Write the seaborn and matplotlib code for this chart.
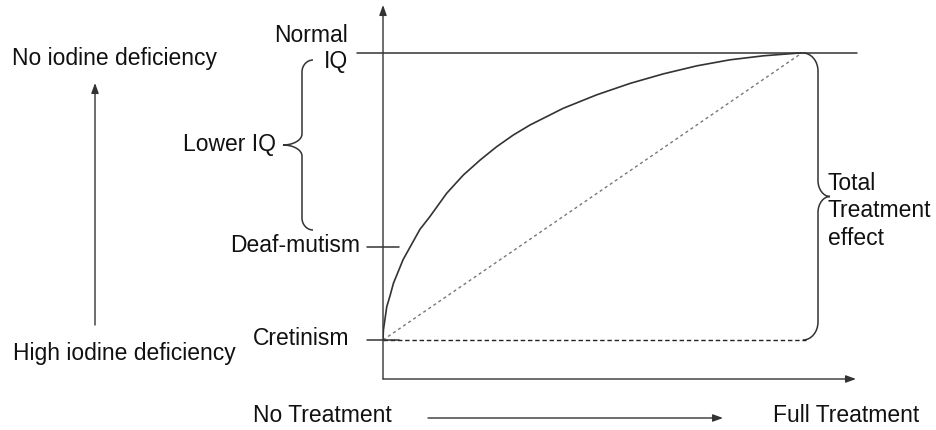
import numpy as np
import pandas as pd
import matplotlib.pyplot as plt
from matplotlib.path import Path
from matplotlib.patches import PathPatch
import seaborn as sns

# Values (treatment share 0..1, outcome level 0 = cretinism, 1 = normal IQ)
treatment = [0.0, 0.001, 0.009, 0.017, 0.025, 0.048, 0.088, 0.112, 0.152, 0.192,
             0.232, 0.271, 0.311, 0.351, 0.430, 0.510, 0.590, 0.669, 0.749, 0.828,
             0.908, 0.987, 1.0]
outcome = [0.0, 0.035, 0.116, 0.155, 0.198, 0.280, 0.385, 0.430, 0.511, 0.575,
           0.627, 0.673, 0.714, 0.749, 0.807, 0.854, 0.894, 0.927, 0.955, 0.976,
           0.990, 0.999, 1.0]
linear_x = [0.0, 1.0]
linear_y = [0.0, 1.0]
levels = {'Cretinism': 0.0, 'Deaf-mutism': 0.324, 'Normal IQ': 1.0}

sns.set_theme(style='white')
plt.rcParams['font.family'] = ['Liberation Sans', 'DejaVu Sans']

INK = '#111111'
LINE = '#333333'
FS = 16.5

fig = plt.figure(figsize=(9.36, 4.3), dpi=100)
fig.patch.set_facecolor('white')

# overlay in pixel coordinates for the labels and side decorations
ov = fig.add_axes([0, 0, 1, 1])
ov.set_xlim(0, 936)
ov.set_ylim(430, 0)
ov.axis('off')

ax = fig.add_axes([383 / 936, 51 / 430, 473 / 936, 374 / 430])
ax.set_xlim(0, 1.129)
ax.set_ylim(-0.136, 1.167)
ax.axis('off')
ax.patch.set_alpha(0)

curve = pd.DataFrame({'treatment': treatment, 'outcome': outcome})
sns.lineplot(data=curve, x='treatment', y='outcome', ax=ax, color=LINE, lw=1.2,
             sort=False, estimator=None)
ax.plot(linear_x, linear_y, color='#777777', lw=1.0, dashes=(2.2, 2.2))
ax.plot([0, 1.01], [levels['Cretinism']] * 2, color='#222222', lw=1.0, dashes=(3.2, 2.0))
ax.plot([-0.062, 1.131], [levels['Normal IQ']] * 2, color=LINE, lw=1.1, clip_on=False)
for key in ['Deaf-mutism', 'Cretinism']:
    ax.plot([-0.038, 0.038], [levels[key]] * 2, color=LINE, lw=1.1, clip_on=False)

arrow = dict(arrowstyle='-|>,head_length=0.6,head_width=0.22', color=LINE, lw=1.0,
             shrinkA=0, shrinkB=0, mutation_scale=10)
ax.annotate('', xy=(0, 1), xytext=(0, 0), xycoords='axes fraction', arrowprops=arrow)
ax.annotate('', xy=(1, 0), xytext=(0, 0), xycoords='axes fraction', arrowprops=arrow)
ov.annotate('', xy=(95, 83), xytext=(95, 325), arrowprops=arrow)
ov.annotate('', xy=(723, 418), xytext=(428, 418), arrowprops=arrow)


def brace(x_end, x_v, x_tip, y_top, y_bot, r_end, r_tip):
    y_mid = (y_top + y_bot) / 2
    k = 0.55
    verts = [
        (x_end, y_top),
        (x_end + (x_v - x_end) * k, y_top), (x_v, y_top + r_end * (1 - k)), (x_v, y_top + r_end),
        (x_v, y_mid - r_tip),
        (x_v, y_mid - r_tip * (1 - k)), (x_tip + (x_v - x_tip) * k, y_mid), (x_tip, y_mid),
        (x_tip + (x_v - x_tip) * k, y_mid), (x_v, y_mid + r_tip * (1 - k)), (x_v, y_mid + r_tip),
        (x_v, y_bot - r_end),
        (x_v, y_bot - r_end * (1 - k)), (x_end + (x_v - x_end) * k, y_bot), (x_end, y_bot),
    ]
    codes = [Path.MOVETO, Path.CURVE4, Path.CURVE4, Path.CURVE4, Path.LINETO,
             Path.CURVE4, Path.CURVE4, Path.CURVE4, Path.CURVE4, Path.CURVE4, Path.CURVE4,
             Path.LINETO, Path.CURVE4, Path.CURVE4, Path.CURVE4]
    ov.add_patch(PathPatch(Path(verts, codes), fill=False, edgecolor=LINE, lw=1.1))


brace(803, 818, 830, 53, 340, 18, 16)
brace(313, 302, 283, 60, 230, 12, 11)

labels = [
    ('No iodine deficiency', 12, 65, 'left'),
    ('High iodine deficiency', 13, 360, 'left'),
    ('Normal', 348, 42, 'right'),
    ('IQ', 348, 68, 'right'),
    ('Lower IQ', 276, 151, 'right'),
    ('Deaf-mutism', 360, 252, 'right'),
    ('Cretinism', 349, 345, 'right'),
    ('No Treatment', 253, 422, 'left'),
    ('Full Treatment', 773, 422, 'left'),
    ('Total', 828, 190, 'left'),
    ('Treatment', 828, 217, 'left'),
    ('effect', 828, 245, 'left'),
]
for txt, x, y, ha in labels:
    ov.text(x, y, txt, ha=ha, va='baseline', fontsize=FS, color=INK)

fig.savefig('out.png', dpi=100, facecolor='white')
